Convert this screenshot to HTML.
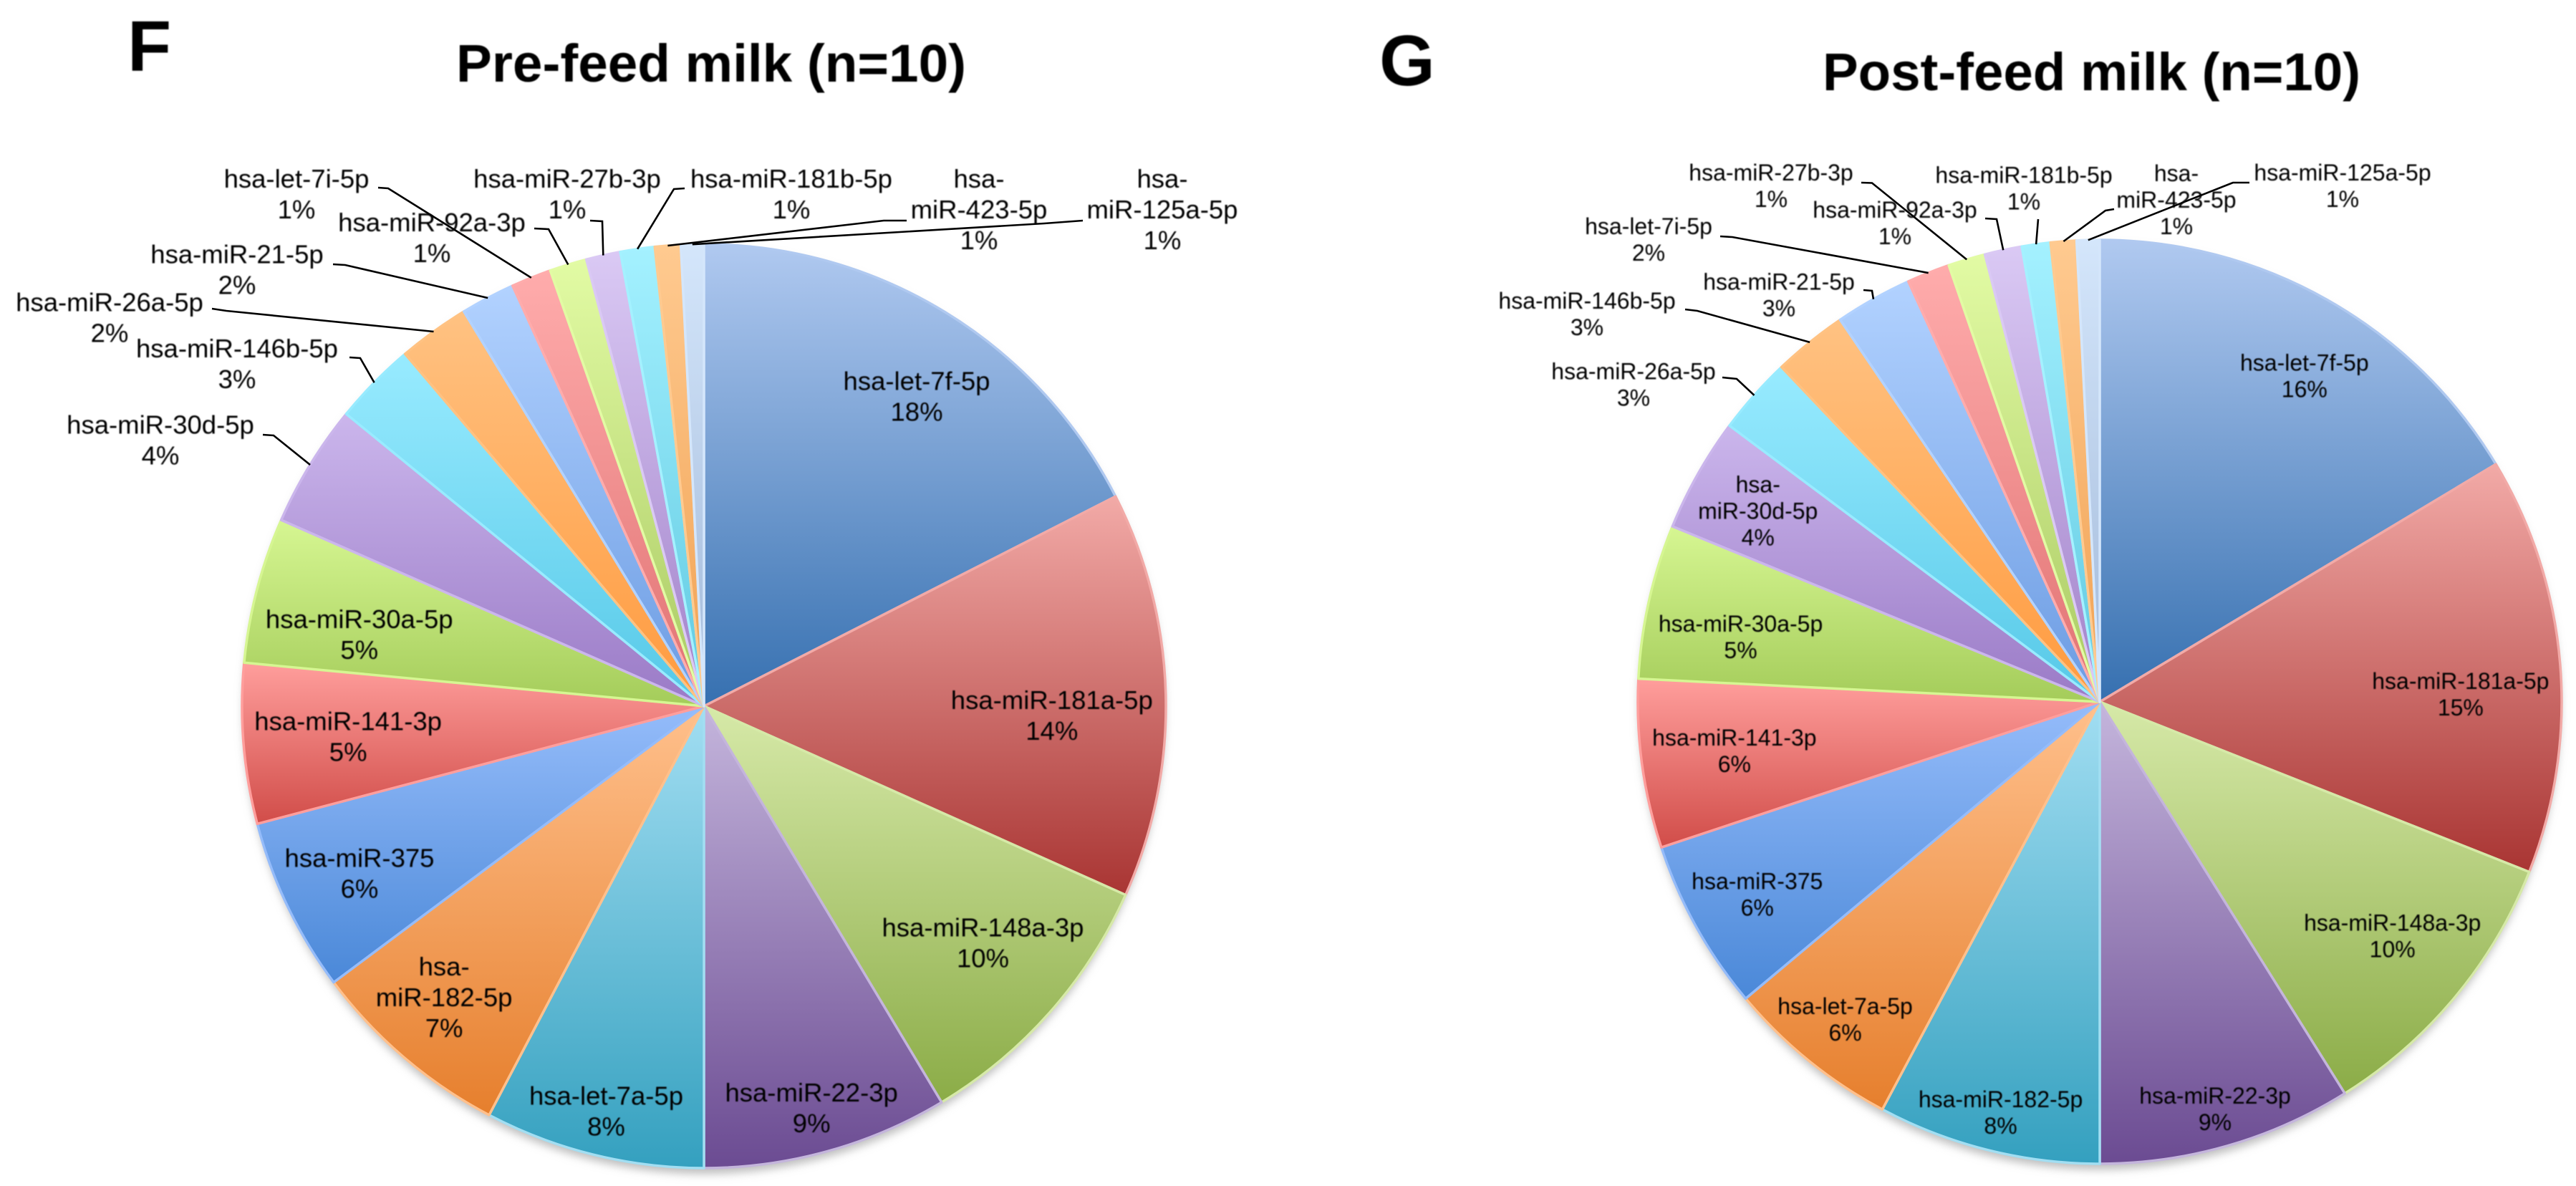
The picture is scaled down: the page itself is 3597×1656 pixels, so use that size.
<!DOCTYPE html>
<html lang="en">
<head>
<meta charset="utf-8">
<title>Pre-feed and post-feed milk miRNA pie charts</title>
<style>
html,body{margin:0;padding:0;background:#fff;width:3597px;height:1656px;overflow:hidden}
svg{display:block}
text{font-family:"Liberation Sans",Arial,sans-serif;fill:#000}
</style>
</head>
<body>
<svg id="figure" xmlns="http://www.w3.org/2000/svg" width="3597" height="1656" viewBox="0 0 3597 1656">
  <defs id="defs">
    <filter id="pie-shadow" x="-10%" y="-10%" width="120%" height="120%"><feGaussianBlur stdDeviation="6"/></filter>
    <filter id="soft" x="-5%" y="-5%" width="110%" height="110%"><feGaussianBlur stdDeviation="0.9"/></filter>
  </defs>
  <rect width="3597" height="1656" fill="#fff"/>
  <text x="178" y="99" font-size="100" font-weight="700" filter="url(#soft)">F</text>
  <text x="1926" y="119" font-size="100" font-weight="700" filter="url(#soft)">G</text>
  <text x="637" y="114" font-size="74" font-weight="700" textLength="712" lengthAdjust="spacingAndGlyphs" filter="url(#soft)">Pre-feed milk (n=10)</text>
  <text x="2545" y="126" font-size="74" font-weight="700" textLength="751" lengthAdjust="spacingAndGlyphs" filter="url(#soft)">Post-feed milk (n=10)</text>
  <g id="chart-f"></g>
  <g id="chart-g"></g>
</svg>
<script>
// ---- Chart data ----
const categoriesF = ['hsa-let-7f-5p','hsa-miR-181a-5p','hsa-miR-148a-3p','hsa-miR-22-3p','hsa-let-7a-5p','hsa-|miR-182-5p','hsa-miR-375','hsa-miR-141-3p','hsa-miR-30a-5p','hsa-miR-30d-5p','hsa-miR-146b-5p','hsa-miR-26a-5p','hsa-miR-21-5p','hsa-let-7i-5p','hsa-miR-92a-3p','hsa-miR-27b-3p','hsa-miR-181b-5p','hsa-|miR-423-5p','hsa-|miR-125a-5p'];
const valuesF = [17.5,14.2,9.7,8.6,7.7,7.1,6.1,5.6,5.1,4.3,2.9,2.5,1.9,1.4,1.3,1.2,1.2,0.9,0.8];
const printedF = ['18%','14%','10%','9%','8%','7%','6%','5%','5%','4%','3%','2%','2%','1%','1%','1%','1%','1%','1%'];

const categoriesG = ['hsa-let-7f-5p','hsa-miR-181a-5p','hsa-miR-148a-3p','hsa-miR-22-3p','hsa-miR-182-5p','hsa-let-7a-5p','hsa-miR-375','hsa-miR-141-3p','hsa-miR-30a-5p','hsa-|miR-30d-5p','hsa-miR-26a-5p','hsa-miR-146b-5p','hsa-miR-21-5p','hsa-let-7i-5p','hsa-miR-27b-3p','hsa-miR-92a-3p','hsa-miR-181b-5p','hsa-|miR-423-5p','hsa-miR-125a-5p'];
const valuesG = [16.4,14.6,10.1,8.9,7.8,6.1,6.0,5.9,5.4,4.0,2.7,2.6,2.7,1.5,1.3,1.3,1.0,0.9,0.8];
const printedG = ['16%','15%','10%','9%','8%','6%','6%','6%','5%','4%','3%','3%','3%','2%','1%','1%','1%','1%','1%'];

// ---- Styling and layout (not data) ----
const paletteTop = ['#b0c9f0','#f2aaa7','#d6e9a8','#c4b5dc','#a2def2','#ffc08c','#95bcfa','#ff9e9c','#d6f692','#cbb6ec','#98ebff','#ffc282','#b2d2ff','#ffacac','#e2fba4','#dac9f4','#a4f1ff','#ffca90','#d4e6fb'];
const paletteBottom = ['#3670b0','#a93533','#8bac47','#6b4b92','#34a0bf','#e67f2d','#4a88d8','#d14d49','#a4cc5a','#9a7ac6','#55c8e7','#ff9a3e','#6b9be2','#e07272','#a9c962','#a181c9','#60c9e1','#f0a152','#a2b9d9'];

// Inner labels: offset of the label block centre from the slice's rim mid-point.
const innerOffsetsF = {0:[-40,117],1:[-159,29],2:[-93,-98],3:[-22,-61],4:[18,-61],5:[56,-84],6:[100,-47],7:[146,-10.5],8:[143,62]};
const innerOffsetsG = {0:[-32,106],1:[-139,42],2:[-87,-86],3:[-17,-51.5],4:[18,-52.5],5:[51,-57.5],6:[85,-45.5],7:[129,-18.5],8:[128,50],9:[84,51]};

// Callouts: label block centre (x, y), leader start (x, y), leader elbow (x, y).
const calloutsF = {
  9:[224,614,367,607,382,608],10:[331,507.5,488,499,503,500],11:[153,443,296,431,316,434],12:[331,376,465,369,482,370],
  13:[414,270.5,528,262,542,263],14:[603,331.5,746,319,766,320],15:[792,270.5,824,308,841,309],16:[1105,270.5,956,263,941,264],
  17:[1367,292,1266,308,1234,308],18:[1623,292,1512,308,1458,312]
};
const calloutsG = {
  10:[2281,537,2405,527,2425,529],11:[2216,438.5,2353,432,2370,434],12:[2484,412,2602,405,2614,406],13:[2302,334.5,2402,330,2419,331],
  14:[2473,259.5,2599,255,2614,255.5],15:[2646,311.5,2772,305,2788,306],16:[2826,263,2846,306,2846,306],17:[3039,279,2952,292,2940,294],18:[3271,259.5,3141,255,3118,255]
};

const NS = 'http://www.w3.org/2000/svg';
const defs = document.getElementById('defs');

function drawPie(groupId, prefix, cx, cy, r, categories, values, printed, innerOffsets, callouts, fontSize, lineHeight) {
  const group = document.getElementById(groupId);
  const total = values.reduce(function (a, b) { return a + b; }, 0);
  const angleOf = function (v) { return v / total * 2 * Math.PI; };
  const rimPoint = function (a, k) { return [cx + r * k * Math.sin(a), cy - r * k * Math.cos(a)]; };

  const shadow = document.createElementNS(NS, 'ellipse');
  
  
  shadow.setAttribute('cx', cx);
  shadow.setAttribute('cy', cy + 8);
  shadow.setAttribute('rx', r - 2);
  shadow.setAttribute('ry', r);
  shadow.setAttribute('fill', '#bdbdbd');
  shadow.setAttribute('filter', 'url(#pie-shadow)');
  group.appendChild(shadow);

  let cumulative = 0;
  const mids = [];
  values.forEach(function (v, i) {
    const start = angleOf(cumulative);
    const end = angleOf(cumulative + v);
    cumulative += v;
    mids.push((start + end) / 2);

    const grad = document.createElementNS(NS, 'linearGradient');
    grad.setAttribute('id', prefix + '-grad-' + i);
    grad.setAttribute('x1', '0');
    grad.setAttribute('y1', '0');
    grad.setAttribute('x2', '0');
    grad.setAttribute('y2', '1');
    const s0 = document.createElementNS(NS, 'stop');
    s0.setAttribute('offset', '0');
    s0.setAttribute('stop-color', paletteTop[i]);
    const s1 = document.createElementNS(NS, 'stop');
    s1.setAttribute('offset', '1');
    s1.setAttribute('stop-color', paletteBottom[i]);
    grad.appendChild(s0);
    grad.appendChild(s1);
    defs.appendChild(grad);

    const p0 = rimPoint(start, 1);
    const p1 = rimPoint(end, 1);
    const large = end - start > Math.PI ? 1 : 0;
    const slice = document.createElementNS(NS, 'path');
    
    
    slice.setAttribute('d', 'M' + cx + ' ' + cy + 'L' + p0[0] + ' ' + p0[1] + 'A' + r + ' ' + r + ' 0 ' + large + ' 1 ' + p1[0] + ' ' + p1[1] + 'Z');
    slice.setAttribute('fill', 'url(#' + prefix + '-grad-' + i + ')');
    slice.setAttribute('stroke', paletteTop[i]);
    slice.setAttribute('stroke-width', '3.5');
    slice.setAttribute('stroke-linejoin', 'round');
    group.appendChild(slice);
  });

  values.forEach(function (v, i) {
    const lines = categories[i].split('|').concat([printed[i]]);
    let lx, ly;
    if (innerOffsets[i]) {
      const rim = rimPoint(mids[i], 1);
      lx = rim[0] + innerOffsets[i][0];
      ly = rim[1] + innerOffsets[i][1];
    } else {
      const c = callouts[i];
      lx = c[0];
      ly = c[1];
      const tip = rimPoint(mids[i], 1.0);
      const leader = document.createElementNS(NS, 'polyline');
      
      
      leader.setAttribute('points', c[2] + ',' + c[3] + ' ' + c[4] + ',' + c[5] + ' ' + tip[0] + ',' + tip[1]);
      leader.setAttribute('fill', 'none');
      leader.setAttribute('stroke', '#000');
      leader.setAttribute('stroke-width', '2.6');
      group.appendChild(leader);
    }
    const label = document.createElementNS(NS, 'text');
    
    
    label.setAttribute('font-size', fontSize);
    label.setAttribute('text-anchor', 'middle');
    label.setAttribute('filter', 'url(#soft)');
    const firstBaseline = ly - (lines.length - 1) * lineHeight / 2 + fontSize * 0.35;
    lines.forEach(function (line, k) {
      const span = document.createElementNS(NS, 'tspan');
      span.setAttribute('x', lx);
      span.setAttribute('y', firstBaseline + k * lineHeight);
      span.textContent = line;
      label.appendChild(span);
    });
    group.appendChild(label);
  });
}

drawPie('chart-f', 'pre-feed', 983, 986, 645, categoriesF, valuesF, printedF, innerOffsetsF, calloutsF, 36.5, 43);
drawPie('chart-g', 'post-feed', 2932, 980, 645, categoriesG, valuesG, printedG, innerOffsetsG, calloutsG, 32, 37);
</script>
</body>
</html>
